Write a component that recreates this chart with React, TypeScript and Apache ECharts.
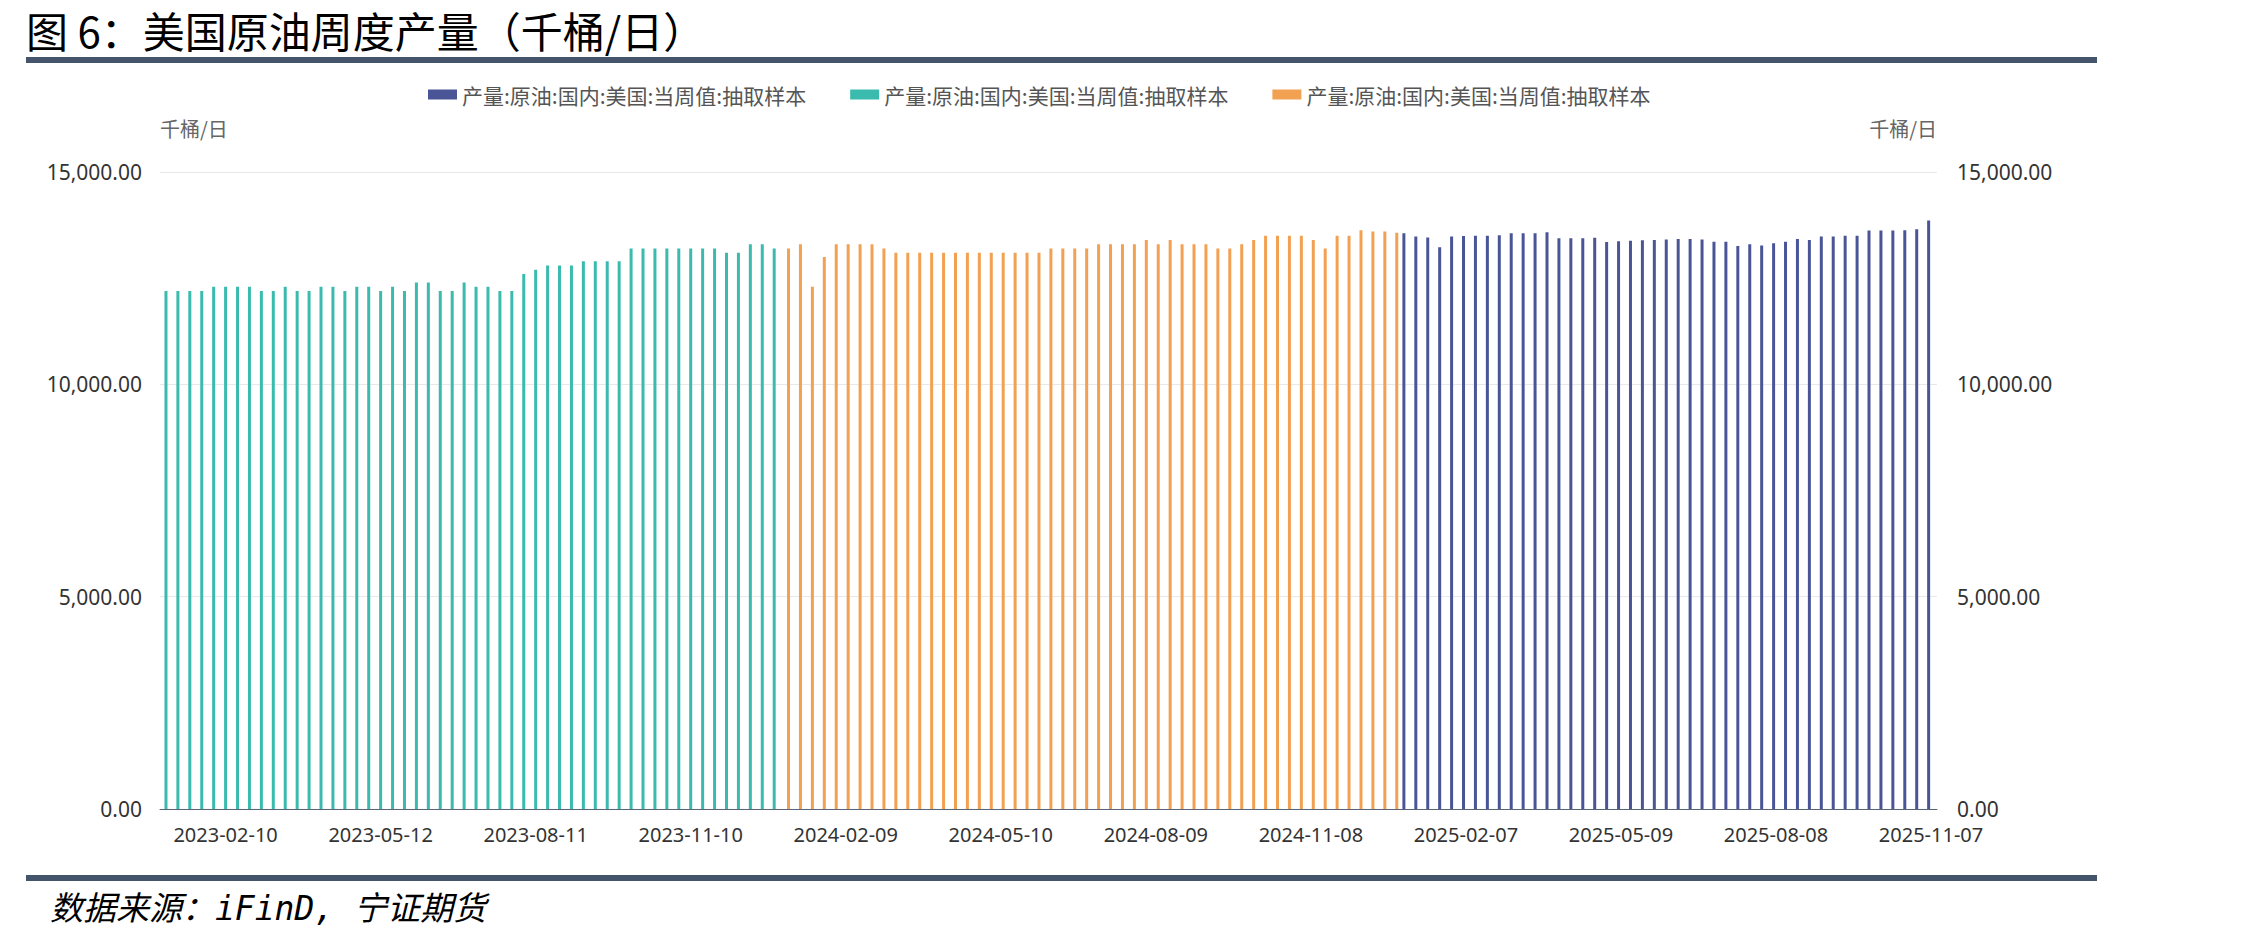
import React, { useEffect, useRef } from "react";
import * as echarts from "echarts";

const dates2023 = [
  "2023-01-06", "2023-01-13", "2023-01-20", "2023-01-27",
  "2023-02-03", "2023-02-10", "2023-02-17", "2023-02-24",
  "2023-03-03", "2023-03-10", "2023-03-17", "2023-03-24", "2023-03-31",
  "2023-04-07", "2023-04-14", "2023-04-21", "2023-04-28",
  "2023-05-05", "2023-05-12", "2023-05-19", "2023-05-26",
  "2023-06-02", "2023-06-09", "2023-06-16", "2023-06-23", "2023-06-30",
  "2023-07-07", "2023-07-14", "2023-07-21", "2023-07-28",
  "2023-08-04", "2023-08-11", "2023-08-18", "2023-08-25",
  "2023-09-01", "2023-09-08", "2023-09-15", "2023-09-22", "2023-09-29",
  "2023-10-06", "2023-10-13", "2023-10-20", "2023-10-27",
  "2023-11-03", "2023-11-10", "2023-11-17", "2023-11-24",
  "2023-12-01", "2023-12-08", "2023-12-15", "2023-12-22", "2023-12-29",
];
const dates2024 = [
  "2024-01-05", "2024-01-12", "2024-01-19", "2024-01-26",
  "2024-02-02", "2024-02-09", "2024-02-16", "2024-02-23",
  "2024-03-01", "2024-03-08", "2024-03-15", "2024-03-22", "2024-03-29",
  "2024-04-05", "2024-04-12", "2024-04-19", "2024-04-26",
  "2024-05-03", "2024-05-10", "2024-05-17", "2024-05-24", "2024-05-31",
  "2024-06-07", "2024-06-14", "2024-06-21", "2024-06-28",
  "2024-07-05", "2024-07-12", "2024-07-19", "2024-07-26",
  "2024-08-02", "2024-08-09", "2024-08-16", "2024-08-23", "2024-08-30",
  "2024-09-06", "2024-09-13", "2024-09-20", "2024-09-27",
  "2024-10-04", "2024-10-11", "2024-10-18", "2024-10-25",
  "2024-11-01", "2024-11-08", "2024-11-15", "2024-11-22", "2024-11-29",
  "2024-12-06", "2024-12-13", "2024-12-20", "2024-12-27",
];
const dates2025 = [
  "2025-01-03", "2025-01-10", "2025-01-17", "2025-01-24", "2025-01-31",
  "2025-02-07", "2025-02-14", "2025-02-21", "2025-02-28",
  "2025-03-07", "2025-03-14", "2025-03-21", "2025-03-28",
  "2025-04-04", "2025-04-11", "2025-04-18", "2025-04-25",
  "2025-05-02", "2025-05-09", "2025-05-16", "2025-05-23", "2025-05-30",
  "2025-06-06", "2025-06-13", "2025-06-20", "2025-06-27",
  "2025-07-04", "2025-07-11", "2025-07-18", "2025-07-25",
  "2025-08-01", "2025-08-08", "2025-08-15", "2025-08-22", "2025-08-29",
  "2025-09-05", "2025-09-12", "2025-09-19", "2025-09-26",
  "2025-10-03", "2025-10-10", "2025-10-17", "2025-10-24", "2025-10-31",
  "2025-11-07",
];

// 千桶/日
const prod2023 = [
  12200, 12200, 12200, 12200, 12300, 12300, 12300, 12300, 12200, 12200,
  12300, 12200, 12200, 12300, 12300, 12200, 12300, 12300, 12200, 12300,
  12200, 12400, 12400, 12200, 12200, 12400, 12300, 12300, 12200, 12200,
  12600, 12700, 12800, 12800, 12800, 12900, 12900, 12900, 12900, 13200,
  13200, 13200, 13200, 13200, 13200, 13200, 13200, 13100, 13100, 13300,
  13300, 13200,
];
const prod2024 = [
  13200, 13300, 12300, 13000, 13300, 13300, 13300, 13300, 13200, 13100,
  13100, 13100, 13100, 13100, 13100, 13100, 13100, 13100, 13100, 13100,
  13100, 13100, 13200, 13200, 13200, 13200, 13300, 13300, 13300, 13300,
  13400, 13300, 13400, 13300, 13300, 13300, 13200, 13200, 13300, 13400,
  13500, 13500, 13500, 13500, 13400, 13200, 13500, 13500, 13630, 13600,
  13600, 13570,
];
const prod2025 = [
  13560, 13480, 13460, 13230, 13480, 13490, 13500, 13500, 13510, 13560,
  13560, 13560, 13580, 13440, 13440, 13440, 13450, 13350, 13370, 13380,
  13390, 13400, 13410, 13420, 13420, 13410, 13360, 13360, 13260, 13300,
  13270, 13320, 13360, 13420, 13400, 13480, 13480, 13500, 13500, 13620,
  13620, 13620, 13630, 13650, 13860,
];

const yTicks = { min: 0, max: 15000, interval: 5000 };
const seriesLabel = "产量:原油:国内:美国:当周值:抽取样本";
const seriesNames = [seriesLabel + "#2025", seriesLabel + "#2023", seriesLabel + "#2024"];
const colors = ["#4a5597", "#3abbae", "#f2a052"];

const categories = [...dates2023, ...dates2024, ...dates2025];

export default function App() {
  const ref = useRef<HTMLDivElement>(null);

  useEffect(() => {
    if (!ref.current) return;
    const chart = echarts.init(ref.current, undefined, { renderer: "svg" });
    const n2023 = dates2023.length;
    const n2024 = dates2024.length;
    const n2025 = dates2025.length;
    const nulls = (k: number) => new Array(k).fill(null);
    const d2025 = [...nulls(n2023 + n2024), ...prod2025];
    const d2023 = [...prod2023, ...nulls(n2024 + n2025)];
    const d2024 = [...nulls(n2023), ...prod2024, ...nulls(n2025)];
    const last = categories.length - 1;
    const numFont = "'Noto Sans', 'Noto Sans CJK SC', sans-serif";
    const cjkFont = "'Noto Sans CJK SC', 'Noto Sans', sans-serif";
    const fmt = (v: number) =>
      v.toLocaleString("en-US", { minimumFractionDigits: 2, maximumFractionDigits: 2 });

    const mkY = (pos: "left" | "right") => ({
      type: "value",
      position: pos,
      min: yTicks.min,
      max: yTicks.max,
      interval: yTicks.interval,
      name: "千桶/日",
      nameLocation: "end",
      nameGap: 44,
      nameTextStyle: {
        align: pos === "left" ? "left" : "right",
        verticalAlign: "middle",
        color: "#666",
        fontSize: 20,
        fontFamily: cjkFont,
      },
      axisLine: { show: false },
      axisTick: { show: false },
      axisLabel: {
        formatter: fmt,
        margin: pos === "left" ? 18 : 20,
        color: "#333",
        fontSize: 21,
        fontFamily: numFont,
      },
      splitLine: { show: pos === "left", lineStyle: { color: "#e8e8e8", width: 1 } },
    });

    const mkBar = (name: string, data: (number | null)[], color: string) => ({
      name,
      type: "bar",
      data,
      barWidth: 3,
      barGap: "-20%",
      itemStyle: { color },
      emphasis: { disabled: true },
    });

    chart.setOption({
      animation: false,
      backgroundColor: "#ffffff",
      color: colors,
      grid: { left: 160, right: 331, top: 172, bottom: 130, containLabel: false },
      legend: {
        data: seriesNames,
        left: 428,
        top: 84,
        padding: 0,
        itemGap: 44,
        itemWidth: 29,
        itemHeight: 10,
        icon: "rect",
        formatter: () => seriesLabel,
        textStyle: { color: "#555", fontSize: 21, fontFamily: cjkFont },
      },
      xAxis: {
        type: "category",
        data: categories,
        boundaryGap: true,
        axisLine: { show: true, lineStyle: { color: "#5b6378", width: 1 } },
        axisTick: { show: false },
        axisLabel: {
          interval: (i: number) => (last - i) % 13 === 0,
          margin: 15,
          color: "#333",
          fontSize: 20,
          fontFamily: numFont,
        },
        splitLine: { show: false },
      },
      yAxis: [mkY("left"), mkY("right")],
      series: [
        mkBar(seriesNames[0], d2025, colors[0]),
        mkBar(seriesNames[1], d2023, colors[1]),
        mkBar(seriesNames[2], d2024, colors[2]),
      ],
      graphic: [
        {
          type: "text",
          x: 26,
          y: 29,
          style: {
            text: "图 6：美国原油周度产量（千桶/日）",
            font: "42px 'Noto Sans CJK SC'",
            fill: "#000",
            verticalAlign: "middle",
          },
        },
        {
          type: "rect",
          shape: { x: 26, y: 57, width: 2071, height: 6 },
          style: { fill: "#44546a" },
        },
        {
          type: "rect",
          shape: { x: 26, y: 875, width: 2071, height: 6 },
          style: { fill: "#44546a" },
        },
        {
          type: "text",
          x: 50,
          y: 908,
          style: {
            text: "数据来源：iFinD, 宁证期货",
            font: "italic 33px 'DejaVu Sans Mono', 'Noto Sans CJK SC'",
            fill: "#000",
            verticalAlign: "middle",
          },
        },
      ],
    });

    return () => chart.dispose();
  }, []);

  return (
    <div
      ref={ref}
      style={{ position: "absolute", left: 0, top: 0, width: 2268, height: 939, background: "#fff" }}
    />
  );
}
